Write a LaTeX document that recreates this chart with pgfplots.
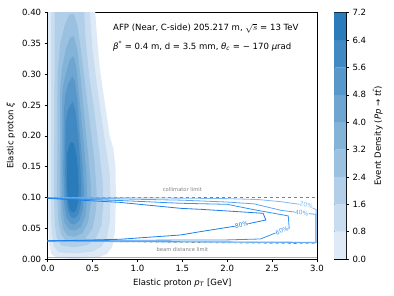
\documentclass[border=0pt]{standalone}
\usepackage{pgfplots}
\pgfplotsset{compat=1.18}
\usepackage{fontspec}
\setmainfont{DejaVu Sans}
\definecolor{c0}{RGB}{222,235,247}
\definecolor{c1}{RGB}{200,221,239}
\definecolor{c2}{RGB}{177,207,232}
\definecolor{c3}{RGB}{155,193,224}
\definecolor{c4}{RGB}{132,179,216}
\definecolor{c5}{RGB}{110,165,209}
\definecolor{c6}{RGB}{87,151,201}
\definecolor{c7}{RGB}{65,137,194}
\definecolor{c8}{RGB}{42,123,186}
\definecolor{a20}{RGB}{125,186,245}
\definecolor{a40}{RGB}{92,167,242}
\definecolor{a60}{RGB}{55,147,240}
\definecolor{a80}{RGB}{28,126,236}
\newcommand{\mainfs}{\fontsize{8.55}{10}\selectfont}
\begin{document}
\begin{tikzpicture}
\useasboundingbox (0,0) rectangle (394pt,296pt);
\begin{axis}[
  at={(47.7pt,37pt)}, anchor=south west,
  width=269.3pt, height=246.3pt, scale only axis,
  xmin=0, xmax=3, ymin=0, ymax=0.4,
  xtick={0,0.5,1,1.5,2,2.5,3},
  ytick={0,0.05,0.1,0.15,0.2,0.25,0.3,0.35,0.4},
  xtick pos=bottom, ytick pos=left, tick align=outside,
  major tick length=3pt,
  tick style={black, line width=0.5pt},
  axis line style={line width=0.6pt},
  /pgf/number format/assume math mode=true,
  xticklabel style={/pgf/number format/.cd, fixed, fixed zerofill, precision=1},
  yticklabel style={/pgf/number format/.cd, fixed, fixed zerofill, precision=2},
  ticklabel style={font=\mainfs},
  label style={font=\mainfs},
  xlabel={Elastic proton \textit{p}\textsubscript{\textit{T}} [GeV]},
  ylabel={Elastic proton \textit{ξ}},
  clip=true,
]
% density bands
\addplot[fill=c0, draw=none] coordinates {(0.005,0.42) (0.005,0.06) (0.015,0.025) (0.04,0.008) (0.1,0.002) (0.3,0.0) (0.55,0.002) (0.66,0.008) (0.72,0.02) (0.75,0.045) (0.76,0.1) (0.755,0.15) (0.73,0.18) (0.69,0.2) (0.64,0.25) (0.58,0.31) (0.55,0.36) (0.53,0.4) (0.52,0.42)};
\addplot[fill=c1, draw=none] coordinates {(0.04,0.42) (0.035,0.08) (0.045,0.04) (0.07,0.02) (0.12,0.011) (0.3,0.009) (0.5,0.012) (0.6,0.02) (0.66,0.035) (0.69,0.06) (0.7,0.1) (0.69,0.14) (0.65,0.18) (0.6,0.23) (0.55,0.28) (0.5,0.34) (0.47,0.4) (0.46,0.42)};
\addplot[fill=c2, draw=none] coordinates {(0.08,0.42) (0.07,0.1) (0.08,0.055) (0.1,0.035) (0.15,0.022) (0.3,0.019) (0.45,0.023) (0.54,0.035) (0.6,0.055) (0.62,0.09) (0.61,0.13) (0.57,0.18) (0.52,0.24) (0.46,0.3) (0.42,0.36) (0.4,0.42)};
\addplot[fill=c3, draw=none] coordinates {(0.11,0.3) (0.105,0.1) (0.12,0.06) (0.15,0.04) (0.2,0.03) (0.3,0.028) (0.42,0.033) (0.5,0.05) (0.54,0.08) (0.545,0.11) (0.52,0.16) (0.47,0.22) (0.42,0.28) (0.37,0.34) (0.33,0.38) (0.29,0.398) (0.24,0.397) (0.19,0.38) (0.14,0.35)};
\addplot[fill=c4, draw=none] coordinates {(0.14,0.28) (0.135,0.12) (0.145,0.07) (0.17,0.05) (0.22,0.038) (0.3,0.036) (0.39,0.042) (0.45,0.06) (0.48,0.09) (0.48,0.12) (0.45,0.17) (0.41,0.23) (0.37,0.29) (0.33,0.34) (0.29,0.362) (0.25,0.36) (0.2,0.34) (0.16,0.31)};
\addplot[fill=c5, draw=none] coordinates {(0.16,0.26) (0.155,0.13) (0.165,0.08) (0.19,0.058) (0.24,0.048) (0.3,0.046) (0.37,0.052) (0.42,0.07) (0.44,0.1) (0.43,0.14) (0.4,0.19) (0.36,0.25) (0.32,0.31) (0.29,0.329) (0.25,0.325) (0.2,0.3) (0.17,0.28)};
\addplot[fill=c6, draw=none] coordinates {(0.18,0.24) (0.175,0.14) (0.185,0.09) (0.21,0.068) (0.25,0.058) (0.3,0.056) (0.35,0.062) (0.39,0.08) (0.405,0.11) (0.39,0.15) (0.36,0.2) (0.33,0.26) (0.3,0.29) (0.27,0.296) (0.23,0.285) (0.195,0.265)};
\addplot[fill=c7, draw=none] coordinates {(0.2,0.22) (0.195,0.14) (0.205,0.1) (0.225,0.078) (0.26,0.068) (0.3,0.066) (0.34,0.072) (0.37,0.09) (0.375,0.12) (0.36,0.16) (0.34,0.2) (0.31,0.24) (0.28,0.255) (0.25,0.25) (0.22,0.24)};
\addplot[fill=c8, draw=none] coordinates {(0.215,0.17) (0.215,0.12) (0.225,0.095) (0.245,0.08) (0.28,0.075) (0.31,0.078) (0.335,0.09) (0.345,0.11) (0.34,0.14) (0.32,0.17) (0.29,0.188) (0.26,0.19) (0.235,0.182)};
% limits
\addplot[gray, dashed, line width=0.6pt] coordinates {(0,0.1) (3,0.1)};
\addplot[gray, dashed, line width=0.6pt] coordinates {(0,0.0292) (3,0.0248)};
% acceptance contours
\addplot[a20, line width=0.8pt] coordinates {(0,0.002) (3,0.002)};
\addplot[a20, line width=0.8pt] coordinates {(0,0.0995) (1.0,0.0992) (1.5,0.0988) (2.0,0.098) (2.35,0.0965) (2.6,0.093) (2.9,0.087) (2.99,0.08) (2.99,0.0265) (2.0,0.0272) (1.0,0.028) (0,0.0288)};
\addplot[a40, line width=0.8pt] coordinates {(0,0.099) (0.5,0.0985) (1.0,0.097) (1.5,0.0955) (2.0,0.0925) (2.3,0.0895) (2.6,0.079) (2.85,0.0745) (2.985,0.0725) (2.985,0.0272) (2.0,0.0278) (1.0,0.0285) (0,0.0293)};
\addplot[a60, line width=0.8pt] coordinates {(0,0.0988) (0.8,0.095) (1.48,0.0905) (2.0,0.0888) (2.3,0.08) (2.68,0.070) (2.69,0.05) (2.55,0.043) (2.37,0.0325) (2.0,0.031) (1.0,0.0305) (0,0.0298)};
\addplot[a80, line width=0.8pt] coordinates {(0,0.0985) (0.8,0.092) (1.48,0.0823) (1.7,0.0807) (2.0,0.078) (2.40,0.0742) (2.43,0.0633) (2.16,0.055) (1.7,0.0444) (1.48,0.039) (0.8,0.032) (0,0.0292)};
\node[font=\fontsize{6}{7}\selectfont, text=a20, fill=white, inner sep=0.2pt, rotate=-10] at (axis cs:2.88,0.088) {20\%};
\node[font=\fontsize{6}{7}\selectfont, text=a40, fill=white, inner sep=0.2pt, rotate=-6] at (axis cs:2.83,0.0745) {40\%};
\node[font=\fontsize{6}{7}\selectfont, text=a60, fill=white, inner sep=0.2pt, rotate=22] at (axis cs:2.61,0.046) {60\%};
\node[font=\fontsize{6}{7}\selectfont, text=a80, fill=white, inner sep=0.2pt, rotate=10] at (axis cs:2.16,0.0555) {80\%};
\node[font=\fontsize{5.2}{6}\selectfont, text=gray] at (axis cs:1.5,0.112) {collimator limit};
\node[font=\fontsize{5.2}{6}\selectfont, text=gray] at (axis cs:1.5,0.016) {beam distance limit};
\node[font=\mainfs, anchor=west] at (axis cs:0.69,0.375) {AFP (Near, C-side) 205.217 m, $\sqrt{s}$ = 13 TeV};
\node[font=\mainfs, anchor=west] at (axis cs:0.69,0.345) {\textit{β}\textsuperscript{*} = 0.4 m, d = 3.5 mm, \textit{θ}\textsubscript{\textit{c}} = − 170 \textit{μ}rad};
\end{axis}
\begin{axis}[
  at={(334pt,37pt)}, anchor=south west,
  width=12pt, height=246.3pt, scale only axis,
  xmin=0, xmax=1, ymin=0, ymax=7.2,
  xtick=\empty,
  ytick={0,0.8,1.6,2.4,3.2,4.0,4.8,5.6,6.4,7.2},
  ytick pos=right, yticklabel pos=right, tick align=outside,
  major tick length=3pt,
  tick style={black, line width=0.5pt},
  axis line style={line width=0.6pt},
  /pgf/number format/assume math mode=true,
  yticklabel style={/pgf/number format/.cd, fixed, fixed zerofill, precision=1},
  ticklabel style={font=\mainfs},
  ylabel={Event Density (\textit{Pp} → \textit{tt̄})},
  ylabel near ticks,
  ylabel style={font=\mainfs},
]
\addplot[fill=c0, draw=none] coordinates {(0,0) (1,0) (1,0.8) (0,0.8) (0,0)};
\addplot[fill=c1, draw=none] coordinates {(0,0.8) (1,0.8) (1,1.6) (0,1.6) (0,0.8)};
\addplot[fill=c2, draw=none] coordinates {(0,1.6) (1,1.6) (1,2.4) (0,2.4) (0,1.6)};
\addplot[fill=c3, draw=none] coordinates {(0,2.4) (1,2.4) (1,3.2) (0,3.2) (0,2.4)};
\addplot[fill=c4, draw=none] coordinates {(0,3.2) (1,3.2) (1,4.0) (0,4.0) (0,3.2)};
\addplot[fill=c5, draw=none] coordinates {(0,4.0) (1,4.0) (1,4.8) (0,4.8) (0,4.0)};
\addplot[fill=c6, draw=none] coordinates {(0,4.8) (1,4.8) (1,5.6) (0,5.6) (0,4.8)};
\addplot[fill=c7, draw=none] coordinates {(0,5.6) (1,5.6) (1,6.4) (0,6.4) (0,5.6)};
\addplot[fill=c8, draw=none] coordinates {(0,6.4) (1,6.4) (1,7.2) (0,7.2) (0,6.4)};
\end{axis}
\end{tikzpicture}
\end{document}
